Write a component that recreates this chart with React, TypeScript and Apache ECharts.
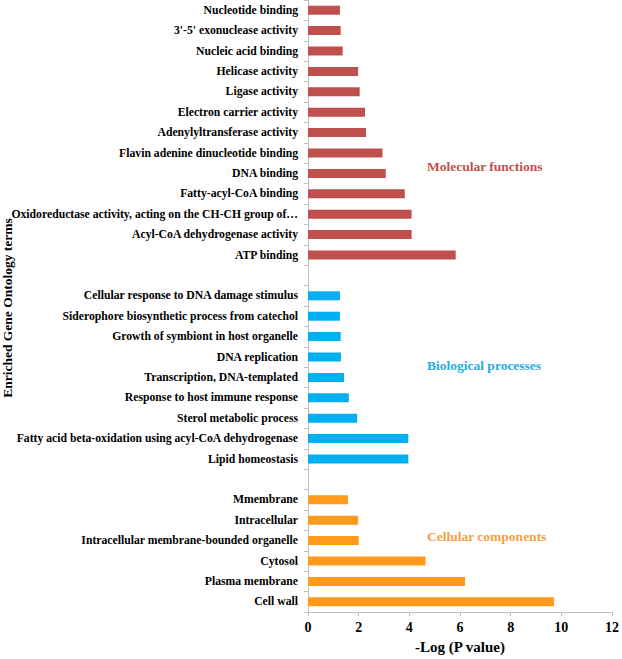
import React, { useEffect, useRef } from "react";
import * as echarts from "echarts";

// Categories listed bottom to top (blank entries = spacer rows between groups)
const cellularTerms = [
  "Cell wall",
  "Plasma membrane",
  "Cytosol",
  "Intracellular membrane-bounded organelle",
  "Intracellular",
  "Mmembrane",
];
const cellularValues = [9.71, 6.2, 4.64, 2.0, 1.98, 1.58];

const biologicalTerms = [
  "Lipid homeostasis",
  "Fatty acid beta-oxidation using acyl-CoA dehydrogenase",
  "Sterol metabolic process",
  "Response to host immune response",
  "Transcription, DNA-templated",
  "DNA replication",
  "Growth of symbiont in host organelle",
  "Siderophore biosynthetic process from catechol",
  "Cellular response to DNA damage stimulus",
];
const biologicalValues = [3.96, 3.96, 1.94, 1.61, 1.42, 1.3, 1.29, 1.26, 1.26];

const molecularTerms = [
  "ATP binding",
  "Acyl-CoA dehydrogenase activity",
  "Oxidoreductase activity, acting on the CH-CH group of…",
  "Fatty-acyl-CoA binding",
  "DNA binding",
  "Flavin adenine dinucleotide binding",
  "Adenylyltransferase activity",
  "Electron carrier activity",
  "Ligase activity",
  "Helicase activity",
  "Nucleic acid binding",
  "3'-5' exonuclease activity",
  "Nucleotide binding",
];
const molecularValues = [5.83, 4.09, 4.09, 3.82, 3.07, 2.94, 2.29, 2.25, 2.04, 1.98, 1.37, 1.29, 1.26];

const xTicks = [0, 2, 4, 6, 8, 10, 12];

const RED = "#C0504D";
const BLUE = "#00B0F0";
const ORANGE = "#FF9A1A";
const FONT = "'Liberation Serif', 'Times New Roman', serif";

export default function App() {
  const ref = useRef<HTMLDivElement>(null);

  useEffect(() => {
    if (!ref.current) return;
    const chart = echarts.init(ref.current, undefined, { renderer: "svg" });

    const categories = [...cellularTerms, " ", ...biologicalTerms, "  ", ...molecularTerms];
    const n = categories.length;
    const cellData: (number | null)[] = new Array(n).fill(null);
    const bioData: (number | null)[] = new Array(n).fill(null);
    const molData: (number | null)[] = new Array(n).fill(null);
    cellularValues.forEach((v, i) => (cellData[i] = v));
    const bioStart = cellularTerms.length + 1;
    biologicalValues.forEach((v, i) => (bioData[bioStart + i] = v));
    const molStart = bioStart + biologicalTerms.length + 1;
    molecularValues.forEach((v, i) => (molData[molStart + i] = v));

    const barCommon = {
      type: "bar" as const,
      barWidth: 9,
      barGap: "-100%",
    };

    const groupLabel = (text: string, x: number, y: number, fill: string) => ({
      type: "text",
      x,
      y,
      style: {
        text,
        fontFamily: FONT,
        fontWeight: "bold",
        fontSize: 13.5,
        fill,
        align: "left",
        verticalAlign: "middle",
      },
    });

    chart.setOption({
      animation: false,
      grid: { left: 308, right: 7, top: 0, height: 617, containLabel: false },
      xAxis: {
        type: "value",
        min: xTicks[0],
        max: xTicks[xTicks.length - 1],
        interval: 2,
        splitLine: { show: false },
        axisLine: { show: true, lineStyle: { color: "#BFBFBF" } },
        axisTick: { show: true, length: 4, lineStyle: { color: "#BFBFBF" } },
        axisLabel: {
          fontFamily: FONT,
          fontWeight: "bold",
          fontSize: 14,
          color: "#000",
          margin: 8,
        },
        name: "-Log (P value)",
        nameLocation: "middle",
        nameGap: 27,
        nameTextStyle: { fontFamily: FONT, fontWeight: "bold", fontSize: 15, color: "#000" },
      },
      yAxis: {
        type: "category",
        data: categories,
        axisLine: { show: true, lineStyle: { color: "#BFBFBF" } },
        axisTick: { show: true, length: 4, lineStyle: { color: "#BFBFBF" } },
        axisLabel: {
          fontFamily: FONT,
          fontWeight: "bold",
          fontSize: 11.7,
          color: "#000",
          margin: 10,
          interval: 0,
        },
      },
      graphic: [
        {
          type: "text",
          x: 7,
          y: 308,
          rotation: Math.PI / 2,
          style: {
            text: "Enriched Gene Ontology terms",
            fontFamily: FONT,
            fontWeight: "bold",
            fontSize: 13.5,
            fill: "#000",
            align: "center",
            verticalAlign: "middle",
          },
        },
        groupLabel("Molecular functions", 427, 166, RED),
        groupLabel("Biological processes", 427, 365, "#27A9E1"),
        groupLabel("Cellular components", 427, 536, "#F4A040"),
      ],
      series: [
        { ...barCommon, name: "Cellular components", data: cellData, itemStyle: { color: ORANGE } },
        { ...barCommon, name: "Biological processes", data: bioData, itemStyle: { color: BLUE } },
        { ...barCommon, name: "Molecular functions", data: molData, itemStyle: { color: RED } },
      ],
    });

    return () => chart.dispose();
  }, []);

  return (
    <div
      ref={ref}
      style={{ position: "absolute", left: 0, top: 0, width: 622, height: 659 }}
    />
  );
}
